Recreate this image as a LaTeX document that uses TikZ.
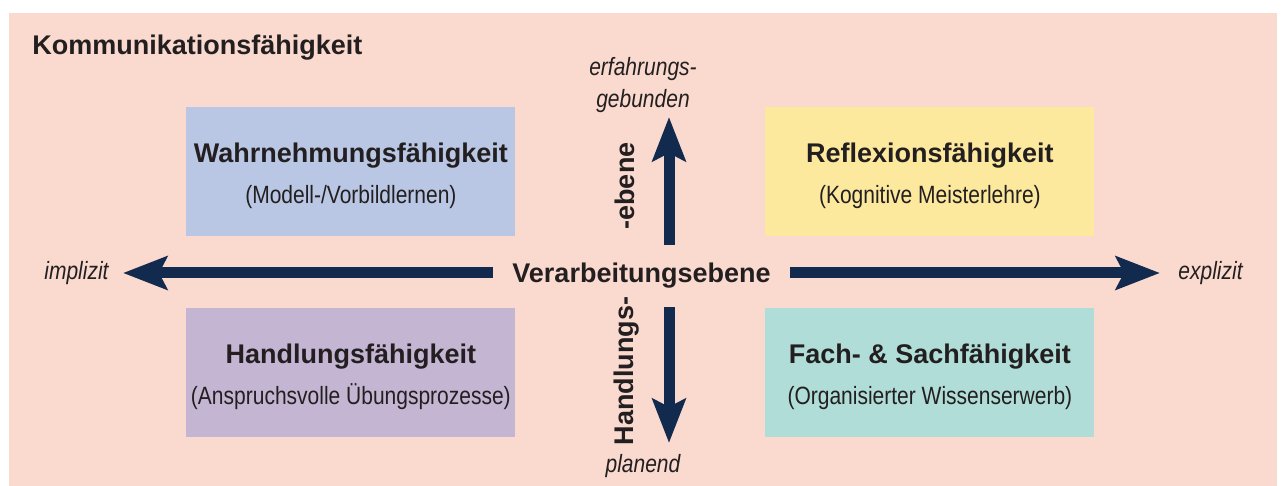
\documentclass[tikz,border=0pt]{standalone}
\usepackage{fontspec}
\setmainfont{Liberation Sans}
\newfontfamily\condfont[FakeStretch=0.84]{Liberation Sans}
\usetikzlibrary{arrows.meta}
\definecolor{bgpink}{HTML}{FADACF}
\definecolor{boxblue}{HTML}{B9C7E4}
\definecolor{boxyellow}{HTML}{FCE99E}
\definecolor{boxpurple}{HTML}{C4B6D3}
\definecolor{boxteal}{HTML}{B0DDD8}
\definecolor{navy}{HTML}{122A4E}
\definecolor{ink}{HTML}{231F20}
\tikzset{
  quad/.style={draw=none, inner sep=0pt, minimum width=164.5pt, minimum height=64.5pt,
    anchor=north west},
  quadtext/.style={inner sep=0pt, align=center, text=ink,
    font=\fontsize{12.5pt}{16pt}\selectfont},
  boldlbl/.style={text=ink, inner sep=0pt, font=\bfseries\fontsize{13.5pt}{16pt}\selectfont},
  itlbl/.style={text=ink, inner sep=0pt, align=center, font=\condfont\itshape\fontsize{12.5pt}{16pt}\selectfont},
  bigarrow/.style={draw=navy, line width=5.5pt,
    -{Stealth[length=22pt, width=16.5pt, inset=4pt, fill=navy]}}
}
\newcommand{\ttl}[1]{{\bfseries\fontsize{13.5pt}{16pt}\selectfont #1}}
\newcommand{\sbt}[1]{{\condfont\fontsize{12.5pt}{16pt}\selectfont #1}}
\begin{document}
\begin{tikzpicture}[x=0.5pt,y=-0.5pt]
\useasboundingbox (0,0) rectangle (1281,486);
\fill[bgpink] (9,13) rectangle (1277,486);

\node[boldlbl, anchor=base west] (title) at (32,55) {Kommunikationsfähigkeit};

\node[quad, fill=boxblue] (wahr) at (186,107) {};
\node[quad, fill=boxyellow] (refl) at (765,107) {};
\node[quad, fill=boxpurple] (hand) at (186,308) {};
\node[quad, fill=boxteal] (fach) at (765,308) {};

\node[quadtext] (wahrT) at ([yshift=-2.2pt]wahr.center) {\ttl{Wahrnehmungsfähigkeit}\\[4.5pt]\sbt{(Modell-/Vorbildlernen)}};
\node[quadtext] (reflT) at ([yshift=-2.2pt]refl.center) {\ttl{Reflexionsfähigkeit}\\[4.5pt]\sbt{(Kognitive Meisterlehre)}};
\node[quadtext] (handT) at ([yshift=-2.2pt]hand.center) {\ttl{Handlungsfähigkeit}\\[4.5pt]\sbt{(Anspruchsvolle Übungsprozesse)}};
\node[quadtext] (fachT) at ([yshift=-2.2pt]fach.center) {\ttl{Fach- \& Sachfähigkeit}\\[4.5pt]\sbt{(Organisierter Wissenserwerb)}};

\node[boldlbl, minimum width=148.5pt, minimum height=31pt] (V) at (641.5,276)
  {\raisebox{2.5pt}{Verarbeitungsebene}};

\coordinate (tipL) at (123,273);
\coordinate (tipR) at (1160,273);
\coordinate (tipU) at (669,117);
\coordinate (tipD) at (669,443);

\draw[bigarrow] (V.west |- tipL) -- (tipL);
\draw[bigarrow] (V.east |- tipR) -- (tipR);
\draw[bigarrow] (V.north -| tipU) -- (tipU);
\draw[bigarrow] (V.south -| tipD) -- (tipD);

\node[itlbl, anchor=base] (impl) at (76.5,280) {implizit};
\node[itlbl, anchor=base] (expl) at (1210.5,280) {explizit};
\node[itlbl] (erf) at (643,85) {erfahrungs-\\gebunden};
\node[itlbl, anchor=base] (plan) at (643,473) {planend};

\node[boldlbl, rotate=90] (ebene) at (625,186) {-ebene};
\node[boldlbl, rotate=90] (handl) at (627,371) {Handlungs-};
\end{tikzpicture}
\end{document}
